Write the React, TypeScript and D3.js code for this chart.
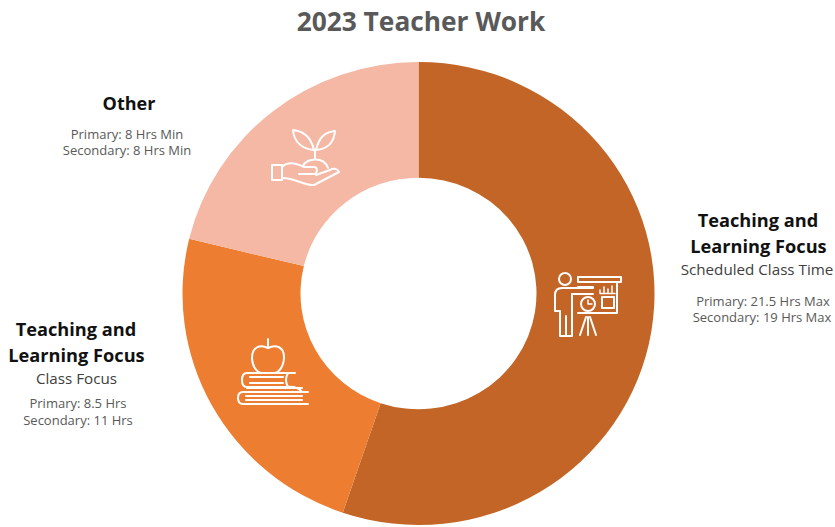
import React from "react";
import * as d3 from "d3";

const categories = ["Scheduled Class Time", "Class Focus", "Other"];
const shares = [55.2, 23.6, 21.2];
const colours = ["#C26526", "#ED7D31", "#F4B8A4"];
const chartTitle = "2023 Teacher Work";

const FONT = "'Open Sans', 'Noto Sans', sans-serif";

type Line = { t: string; x: number; y: number; size: number; weight?: number; fill: string };

const captions: Line[] = [
  { t: "Teaching and", x: 758, y: 227, size: 18.2, weight: 700, fill: "#111" },
  { t: "Learning Focus", x: 758.5, y: 253, size: 18.2, weight: 700, fill: "#111" },
  { t: "Scheduled Class Time", x: 757, y: 275, size: 15.2, fill: "#404040" },
  { t: "Primary: 21.5 Hrs Max", x: 763, y: 306, size: 13, fill: "#595959" },
  { t: "Secondary: 19 Hrs Max", x: 762, y: 322, size: 13, fill: "#595959" },
  { t: "Teaching and", x: 76, y: 336, size: 18.2, weight: 700, fill: "#111" },
  { t: "Learning Focus", x: 76.5, y: 362, size: 18.2, weight: 700, fill: "#111" },
  { t: "Class Focus", x: 76.5, y: 384, size: 15.2, fill: "#404040" },
  { t: "Primary: 8.5 Hrs", x: 78, y: 408, size: 13, fill: "#595959" },
  { t: "Secondary: 11 Hrs", x: 78, y: 425, size: 13, fill: "#595959" },
  { t: "Other", x: 129, y: 110, size: 18, weight: 700, fill: "#111" },
  { t: "Primary: 8 Hrs Min", x: 127, y: 139, size: 13, fill: "#595959" },
  { t: "Secondary: 8 Hrs Min", x: 127, y: 155, size: 13, fill: "#595959" },
];

const iconStyle = { fill: "none", stroke: "#fff", strokeWidth: 2, strokeLinejoin: "round" as const, strokeLinecap: "round" as const };

// Presenter beside a projection screen and a tripod
function PresenterIcon() {
  return (
    <g {...iconStyle}>
      <circle cx={565} cy={279} r={6} />
      <path d="M578 277H621V282H578Z" />
      <path d="M578 287H593M617 282V313H597" />
      <path d="M593 288H562Q555 288 555 295V311H560V336H572V294H593" />
      <path d="M566 336V316" />
      <path d="M602 297H614V308H602Z" />
      <path d="M600 293V290M604 293V287M608 293V289M612 293V286M600 293.500H615" strokeWidth={1.5} />
      <circle cx={588} cy={304} r={7} />
      <path d="M588 300V304H592" strokeWidth={1.5} />
      <path d="M578 313H597M588 317V335M586 317L580 335M590 317L596 335" />
    </g>
  );
}

// Apple resting on a stack of books
function BooksIcon() {
  return (
    <g {...iconStyle}>
      <path d="M268 348C260 344 252 347 252 358C252 366 257 373 262 373H274C279 373 284 366 284 357C284 347 276 344 268 348Z" />
      <path d="M268 348V339" />
      <path d="M295 373H247Q242 373 242 380Q242 387 247 387H288M250 377H283M250 383H283" />
      <path d="M288 373Q284 380 288 387Q297 386 302 392" />
      <path d="M247 388H302M308 392H243Q238 392 238 398Q238 404 243 404H308M246 396H302M246 400H302" />
    </g>
  );
}

// Seedling growing above an open hand
function PlantIcon() {
  return (
    <g {...iconStyle}>
      <path d="M314 150C311 137 303 131 293 130C294 142 302 149 314 150Z" />
      <path d="M316 150C319 137 325 132 335 131C334 143 328 149 316 150Z" />
      <path d="M315 150V158" />
      <path d="M303 166C306 158 324 156 328 168" />
      <path d="M272 165H282V180H272Z" />
      <path d="M282 167C288 161 296 163 304 167H314C318 167 318 174 313 174H299" />
      <path d="M282 178C296 178 304 186 314 185L339 172C337 168 333 168 330 170L316 175" />
    </g>
  );
}

export default function App() {
  const pie = d3.pie<number>().sort(null).startAngle(0).endAngle(2 * Math.PI);
  const arc = d3.arc<d3.PieArcDatum<number>>().innerRadius(118).outerRadius(236);
  const colour = d3.scaleOrdinal<string, string>().domain(categories).range(colours);

  return (
    <svg width={835} height={527} style={{ position: "absolute", left: 0, top: 0, fontFamily: FONT }}>
      <rect width={835} height={527} fill="#fff" />
      <text x={421} y={31} textAnchor="middle" fontSize={26.3} fontWeight={700} fill="#595959">
        {chartTitle}
      </text>
      {/* The ring is very slightly flattened vertically */}
      <g transform="translate(418.5,293.5) scale(1,0.981)">
        {pie(shares).map((d, i) => (
          <path key={categories[i]} d={arc(d) ?? ""} fill={colour(categories[i])} />
        ))}
      </g>
      <PresenterIcon />
      <BooksIcon />
      <PlantIcon />
      {captions.map((c, i) => (
        <text key={i} x={c.x} y={c.y} textAnchor="middle" fontSize={c.size} fontWeight={c.weight ?? 400} fill={c.fill}>
          {c.t}
        </text>
      ))}
    </svg>
  );
}
